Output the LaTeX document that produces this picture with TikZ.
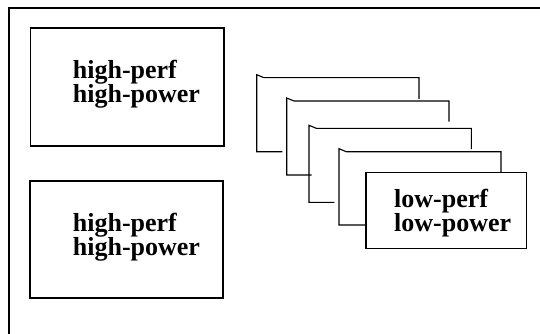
\documentclass[tikz,border=0pt]{standalone}
\usepackage{fontspec}
\setmainfont{Liberation Serif}
\begin{document}
\begin{tikzpicture}[x=1pt,y=-1pt,
  box/.style={draw, line width=1.1pt, fill=white},
  sheet/.style={draw, line width=1.1pt},
  lbl/.style={font=\bfseries\fontsize{26}{23}\selectfont, align=left, inner sep=0pt, anchor=north west},
  frame/.style={draw, line width=1.4pt}]
\useasboundingbox (0,0) rectangle (540,334);
% outer frame (top and left edges visible)
\coordinate (ftr) at (541,8);
\coordinate (ftl) at (9,8);
\coordinate (fbl) at (9,335);
\draw[frame] (ftr) -- (ftl) -- (fbl);
% high-perf boxes
\draw[box] (30.7,28) rectangle (224,146);
\node[lbl] (hp1) at (72.7,59.5) {high-perf\\high-power};
\draw[box] (30,181) rectangle (223,298);
\node[lbl] (hp2) at (72.7,212.5) {high-perf\\high-power};
% stacked sheets
\draw[sheet] (419,99) -- (419,77.7) -- (264,77.7) -- (256.7,74.7) -- (256.7,151.7) -- (282.3,151.7);
\draw[sheet] (449,121.7) -- (449,101) -- (294,101) -- (286.7,98) -- (286.7,175) -- (311.7,175);
\draw[sheet] (471.3,149) -- (471.3,128.3) -- (316.3,128.3) -- (309,125.3) -- (309,202.3) -- (334.3,202.3);
\draw[sheet] (501,172.3) -- (501,151.7) -- (346.3,151.7) -- (339,148.7) -- (339,225) -- (365,225);
% front low-perf box
\draw[box] (366,172.7) rectangle (526.7,248.3);
\node[lbl] (lp) at (394,188.5) {low-perf\\low-power};
\end{tikzpicture}
\end{document}
